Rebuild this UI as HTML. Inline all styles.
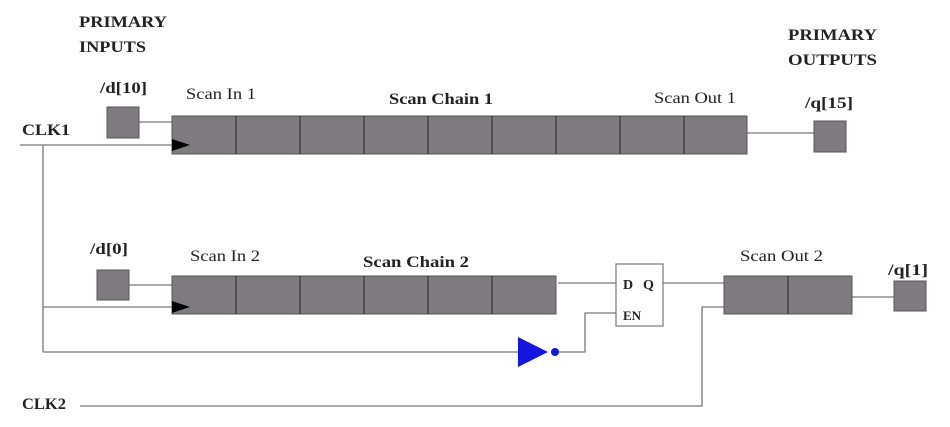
<!DOCTYPE html>
<html><head><meta charset="utf-8"><style>
html,body{margin:0;padding:0;background:#fff;}
svg{display:block;}
text{font-family:"Liberation Serif",serif;fill:#222;}
.b{font-weight:bold;}
</style></head><body>
<svg width="950" height="427" viewBox="0 0 950 427" xmlns="http://www.w3.org/2000/svg">
<g stroke="#777" stroke-width="1.3" fill="none">
<line x1="20" y1="145" x2="175" y2="145"/>
<line x1="43" y1="145" x2="43" y2="352"/>
<line x1="43" y1="307" x2="175" y2="307"/>
<line x1="43" y1="352" x2="518" y2="352"/>
<line x1="139" y1="122" x2="172" y2="122"/>
<line x1="129" y1="285" x2="172" y2="285"/>
<line x1="747" y1="133" x2="814" y2="133"/>
<line x1="558" y1="283" x2="616" y2="283"/>
<line x1="663" y1="283" x2="724" y2="283"/>
<polyline points="559,352 585,352 585,313 616,313"/>
<polyline points="80,406 702,406 702,307 724,307"/>
<line x1="852" y1="297" x2="894" y2="297"/>
</g>
<g fill="#7f7b80" stroke="#555" stroke-width="1">
<rect x="107" y="107" width="32" height="31"/>
<rect x="814" y="121" width="32" height="31"/>
<rect x="97" y="270" width="32" height="30"/>
<rect x="894" y="281" width="32" height="30"/>
<rect x="172" y="116" width="575" height="38"/>
<rect x="172" y="276" width="384" height="38"/>
<rect x="724" y="276" width="128" height="38"/>
</g>
<g stroke="#333" stroke-width="1.2">
<line x1="236" y1="116" x2="236" y2="154"/><line x1="300" y1="116" x2="300" y2="154"/>
<line x1="364" y1="116" x2="364" y2="154"/><line x1="428" y1="116" x2="428" y2="154"/>
<line x1="492" y1="116" x2="492" y2="154"/><line x1="556" y1="116" x2="556" y2="154"/>
<line x1="620" y1="116" x2="620" y2="154"/><line x1="684" y1="116" x2="684" y2="154"/>
<line x1="236" y1="276" x2="236" y2="314"/><line x1="300" y1="276" x2="300" y2="314"/>
<line x1="364" y1="276" x2="364" y2="314"/><line x1="428" y1="276" x2="428" y2="314"/>
<line x1="492" y1="276" x2="492" y2="314"/>
<line x1="788" y1="276" x2="788" y2="314"/>
</g>
<polygon points="172,139 190,145 172,151" fill="#000"/>
<polygon points="172,301 190,307 172,313" fill="#000"/>
<rect x="616" y="264" width="47" height="62" fill="#fff" stroke="#777" stroke-width="1.2"/>
<polygon points="518,337 548,352 518,367" fill="#1515e0"/>
<circle cx="555" cy="352" r="4" fill="#1515e0"/>
<g font-size="16" lengthAdjust="spacingAndGlyphs">
<text x="79" y="27" class="b" textLength="88" lengthAdjust="spacingAndGlyphs">PRIMARY</text>
<text x="79" y="52" class="b" textLength="67" lengthAdjust="spacingAndGlyphs">INPUTS</text>
<text x="788" y="40" class="b" textLength="89" lengthAdjust="spacingAndGlyphs">PRIMARY</text>
<text x="788" y="65" class="b" textLength="89" lengthAdjust="spacingAndGlyphs">OUTPUTS</text>
<text x="100" y="93" class="b" textLength="47" lengthAdjust="spacingAndGlyphs">/d[10]</text>
<text x="186" y="99" textLength="70" lengthAdjust="spacingAndGlyphs">Scan In 1</text>
<text x="389" y="104" class="b" textLength="104" lengthAdjust="spacingAndGlyphs">Scan Chain 1</text>
<text x="654" y="103" textLength="82" lengthAdjust="spacingAndGlyphs">Scan Out 1</text>
<text x="805" y="108" class="b" textLength="48" lengthAdjust="spacingAndGlyphs">/q[15]</text>
<text x="22" y="135" class="b" textLength="48" lengthAdjust="spacingAndGlyphs">CLK1</text>
<text x="90" y="254" class="b" textLength="38" lengthAdjust="spacingAndGlyphs">/d[0]</text>
<text x="190" y="261" textLength="70" lengthAdjust="spacingAndGlyphs">Scan In 2</text>
<text x="363" y="267" class="b" textLength="106" lengthAdjust="spacingAndGlyphs">Scan Chain 2</text>
<text x="740" y="261" textLength="83" lengthAdjust="spacingAndGlyphs">Scan Out 2</text>
<text x="888" y="275" class="b" textLength="40" lengthAdjust="spacingAndGlyphs">/q[1]</text>
<text x="22" y="409" class="b" textLength="44" lengthAdjust="spacingAndGlyphs">CLK2</text>
<text x="623" y="289" class="b" font-size="14">D</text>
<text x="643" y="289" class="b" font-size="14">Q</text>
<text x="623" y="320" class="b" font-size="13">EN</text>
</g>
</svg>
</body></html>
